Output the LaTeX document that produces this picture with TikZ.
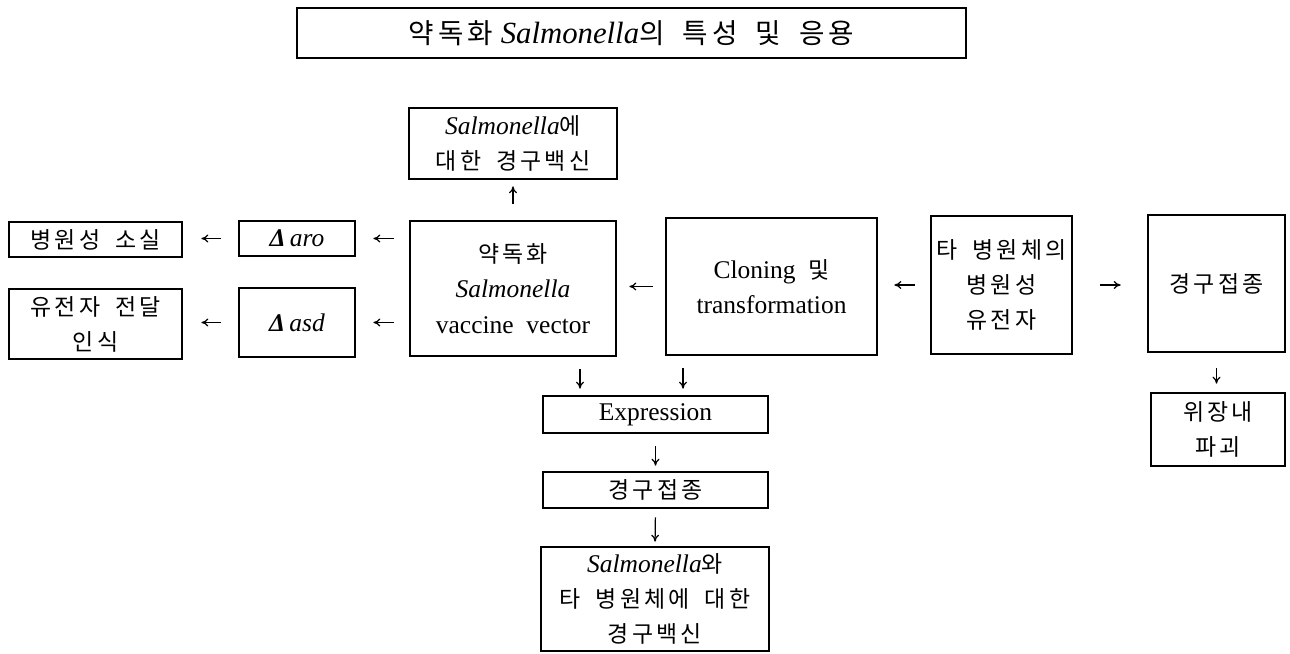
\documentclass[tikz,border=0pt]{standalone}
\usepackage{fontspec}
\setmainfont{Liberation Serif}
\newfontfamily\kr[Scale=0.9,LetterSpace=14,WordSpace=1.8]{Noto Sans CJK KR}
\usepackage{tikz}
\usetikzlibrary{
	positioning,
	calc,
	arrows.meta
}

\begin{document}
\begin{tikzpicture}[
	c_box/.style={
		draw=black,
		line width=1.5pt,
		inner sep=0pt,
		align=center,
		font=\fontsize{14.5}{20}\selectfont
	},
	c_title/.style={
		c_box,
		font=\fontsize{17.5}{18}\selectfont
	},
	c_arrow/.style={
		-{To[length=4pt,width=4.5pt]},
		line width=0.7pt
	}
	]

	\useasboundingbox (0,0) rectangle (25.8,-13.08);

	% =========================================================================
	% TITLE
	% =========================================================================

	\node[c_title, minimum width=13.38cm, minimum height=1.0cm]
	(title) at (12.63,-0.66)
	{{\kr 약독화} \textit{Salmonella}{\kr 의 특성 및 응용}};

	% =========================================================================
	% LEFT SIDE
	% =========================================================================

	\node[c_box, minimum width=4.16cm, minimum height=1.42cm]
	(topvac) at (10.26,-2.87)
	{\textit{Salmonella}{\kr 에}\\{\kr 대한 경구백신}};

	\node[c_box, minimum width=4.12cm, minimum height=2.70cm]
	(vac) at (10.26,-5.77)
	{{\kr 약독화}\\\textit{Salmonella}\\vaccine\ \ vector};

	\node[c_box, minimum width=2.32cm, minimum height=0.70cm]
	(aro) at (5.94,-4.77)
	{{\bfseries\itshape Δ}\,\textit{aro}};

	\node[c_box, minimum width=2.32cm, minimum height=1.38cm]
	(asd) at (5.94,-6.45)
	{{\bfseries\itshape Δ}\,\textit{asd}};

	\node[c_box, minimum width=3.46cm, minimum height=0.70cm]
	(loss) at (1.91,-4.79)
	{\kr 병원성 소실};

	\node[c_box, minimum width=3.46cm, minimum height=1.40cm]
	(recog) at (1.91,-6.48)
	{{\kr 유전자 전달}\\{\kr 인식}};

	% =========================================================================
	% RIGHT SIDE
	% =========================================================================

	\node[c_box, minimum width=4.22cm, minimum height=2.74cm]
	(clon) at (15.43,-5.73)
	{Cloning\ \ {\kr 및}\\transformation};

	\node[c_box, minimum width=2.82cm, minimum height=2.76cm]
	(gene) at (20.03,-5.70)
	{{\kr 타 병원체의}\\{\kr 병원성}\\{\kr 유전자}};

	\node[c_box, minimum width=2.74cm, minimum height=2.74cm]
	(oral) at (24.33,-5.67)
	{\kr 경구접종};

	\node[c_box, minimum width=2.68cm, minimum height=1.46cm]
	(gut) at (24.36,-8.59)
	{{\kr 위장내}\\{\kr 파괴}};

	% =========================================================================
	% BOTTOM CHAIN
	% =========================================================================

	\node[c_box, minimum width=4.50cm, minimum height=0.74cm]
	(expr) at (13.11,-8.29)
	{Expression};

	\node[c_box, minimum width=4.50cm, minimum height=0.72cm]
	(oral2) at (13.11,-9.80)
	{\kr 경구접종};

	\node[c_box, minimum width=4.56cm, minimum height=2.08cm]
	(final) at (13.10,-11.98)
	{\textit{Salmonella}{\kr 와}\\{\kr 타 병원체에 대한}\\{\kr 경구백신}};

	% =========================================================================
	% ARROWS
	% =========================================================================

	\draw[c_arrow, shorten <=0.32cm, shorten >=0.12cm]
	(vac.north) -- (topvac.south);

	\draw[c_arrow, shorten <=0.30cm, shorten >=0.34cm]
	(vac.west |- aro.east) -- (aro.east);

	\draw[c_arrow, shorten <=0.30cm, shorten >=0.34cm]
	(vac.west |- asd.east) -- (asd.east);

	\draw[c_arrow, shorten <=0.34cm, shorten >=0.36cm]
	(aro.west) -- (loss.east |- aro.west);

	\draw[c_arrow, shorten <=0.34cm, shorten >=0.36cm]
	(asd.west) -- (recog.east |- asd.west);

	\draw[c_arrow, shorten <=0.24cm, shorten >=0.24cm]
	(clon.west) -- (vac.east |- clon.west);

	\draw[c_arrow, shorten <=0.30cm, shorten >=0.32cm]
	(gene.west) -- (clon.east |- gene.west);

	\draw[c_arrow, shorten <=0.54cm, shorten >=0.52cm]
	(gene.east) -- (oral.west |- gene.east);

	\draw[c_arrow, shorten <=0.30cm, shorten >=0.16cm]
	(oral.south) -- (gut.north -| oral.south);

	\draw[c_arrow, shorten <=0.24cm, shorten >=0.12cm]
	([xshift=1.34cm]vac.south) -- ([xshift=1.34cm]vac.south |- expr.north);

	\draw[c_arrow, shorten <=0.24cm, shorten >=0.12cm]
	([xshift=-1.77cm]clon.south) -- ([xshift=-1.77cm]clon.south |- expr.north);

	\draw[c_arrow, shorten <=0.24cm, shorten >=0.10cm]
	(expr.south) -- (oral2.north);

	\draw[c_arrow, shorten <=0.16cm, shorten >=0.08cm]
	(oral2.south) -- (final.north);

\end{tikzpicture}
\end{document}
